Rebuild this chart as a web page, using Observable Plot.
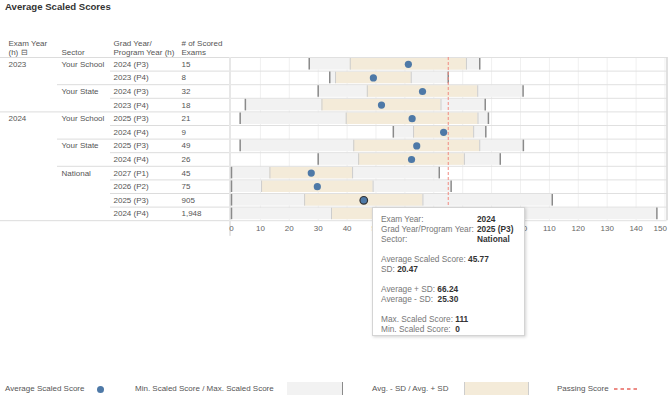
<!DOCTYPE html>
<html>
<head>
<meta charset="utf-8">
<script src="https://cdn.jsdelivr.net/npm/d3@7"></script>
<script src="https://cdn.jsdelivr.net/npm/@observablehq/plot@0.6"></script>
<style>
  body { margin: 0; background: #fff; font-family: Arial, "Liberation Sans", sans-serif; }
  #wrap { position: relative; width: 670px; height: 397px; overflow: hidden; }
  #title { height: 18px; font-weight: bold; font-size: 9.6px; color: #333; padding-left: 5px; line-height: 14px; }
  #charts { display: flex; }
  #charts svg { overflow: visible; }
  .legend { position: absolute; top: 382px; height: 14px; font-size: 8px; color: #555; line-height: 14px; white-space: nowrap; }
  #tooltip { position: absolute; left: 372px; top: 207px; width: 143px; height: 121px; background: #fff;
    border: 1px solid #d4d4d4; box-shadow: 1px 1px 3px rgba(0,0,0,0.18); padding: 6px 0 0 8px;
    font-size: 8.3px; line-height: 10px; color: #777; white-space: nowrap; }
  #tooltip b { color: #333; }
  #tooltip .v { position: absolute; left: 104px; }
  #tooltip .gap { height: 10px; }
</style>
</head>
<body>
<div id="wrap">
  <div id="title">Average Scaled Scores</div>
  <div id="charts"></div>
  <div id="tooltip"></div>
</div>
<script>
// ---------------- data ----------------
const examYears  = ["2023","2023","2023","2023","2024","2024","2024","2024","2024","2024","2024","2024"];
const sectors    = ["Your School","Your School","Your State","Your State","Your School","Your School","Your State","Your State","National","National","National","National"];
const gradYears  = ["2024 (P3)","2023 (P4)","2024 (P3)","2023 (P4)","2025 (P3)","2024 (P4)","2025 (P3)","2024 (P4)","2027 (P1)","2026 (P2)","2025 (P3)","2024 (P4)"];
const counts     = [15, 8, 32, 18, 21, 9, 49, 26, 45, 75, 905, 1948];
const avgScores  = [61.2, 49.1, 66.1, 51.9, 62.5, 73.4, 64.1, 62.3, 27.6, 29.7, 45.77, 55.0];
const sdScores   = [20.1, 13.1, 19.1, 20.6, 22.8, 10.4, 21.8, 18.3, 14.3, 19.3, 20.47, 20.4];
const minScores  = [26.9, 34.0, 30.0, 4.8, 3.0, 56.0, 3.0, 30.0, 0, 0, 0, 0];
const maxScores  = [85.9, 75.0, 100.9, 87.8, 88.9, 88.0, 101.0, 93.0, 71.9, 76.0, 111, 147.2];
const passingScore = 75;
const xTicks = [0,10,20,30,40,50,60,70,80,90,100,110,120,130,140,150];
const headerLine1 = ["Exam Year", "", "Grad Year/", "# of Scored"];
const headerLine2 = ["(h) \u229F", "Sector", "Program Year (h)", "Exams"];
const hovered = 10;

// ---------------- layout ----------------
const colX = [8, 61, 113, 181];
const sepStart = [0, 57, 110];
const H = 360, MT = 39, MB = 157.8;
const gray = "#f2f2f2", beige = "#f4ebd9", blue = "#4e79a7";

const rows = examYears.map((e, i) => ({
  i, exam: e, sector: sectors[i], grad: gradYears[i], count: counts[i],
  avg: avgScores[i], sd: sdScores[i], min: minScores[i], max: maxScores[i]
}));
const n = rows.length;
const examFirst = rows.filter((r, k) => k === 0 || rows[k-1].exam !== r.exam);
const sectorFirst = rows.filter((r, k) => k === 0 || rows[k-1].exam !== r.exam || rows[k-1].sector !== r.sector);
const seps = d3.range(0, n + 1).map(k => {
  let level = 2;
  if (k === 0 || k === n || rows[k].exam !== rows[k-1].exam) level = 0;
  else if (rows[k].sector !== rows[k-1].sector) level = 1;
  return {y: k, x1: sepStart[level]};
});
const headers = headerLine1.map((t, j) => ({x: colX[j], l1: t, l2: headerLine2[j]}));
const fmt = d3.format(",");
const yc = d => d.i + 0.5;
const style = {fontFamily: "Arial, 'Liberation Sans', sans-serif", fontSize: "8px", color: "#555", background: "transparent", overflow: "visible"};

const table = Plot.plot({
  width: 230, height: H, marginLeft: 0, marginRight: 0, marginTop: MT, marginBottom: MB,
  x: {domain: [0, 230], range: [0, 230], axis: null},
  y: {domain: [0, n], reverse: true, axis: null},
  style,
  marks: [
    Plot.ruleY(seps, {y: "y", x1: "x1", x2: 229, stroke: "#dcdcdc"}),
    Plot.ruleX([229.5], {y1: 0, y2: n + 1.15, stroke: "#cfcfcf"}),
    Plot.text(headers, {x: "x", text: "l1", frameAnchor: "top", dy: -14, lineAnchor: "middle", textAnchor: "start", fill: "#555"}),
    Plot.text(headers, {x: "x", text: "l2", frameAnchor: "top", dy: -5, lineAnchor: "middle", textAnchor: "start", fill: "#555"}),
    Plot.text(examFirst, {x: colX[0], y: yc, text: "exam", textAnchor: "start", fill: "#555"}),
    Plot.text(sectorFirst, {x: colX[1], y: yc, text: "sector", textAnchor: "start", fill: "#555"}),
    Plot.text(rows, {x: colX[2], y: yc, text: "grad", textAnchor: "start", fill: "#555"}),
    Plot.text(rows, {x: colX[3], y: yc, text: d => fmt(d.count), textAnchor: "start", fill: "#555"})
  ]
});

const xMax = 150.7;
const lastTick = xTicks[xTicks.length - 1];
const chart = Plot.plot({
  width: 440, height: H, marginLeft: 1, marginRight: 3.5, marginTop: MT, marginBottom: MB,
  x: {domain: [0, xMax], axis: null},
  y: {domain: [0, n], reverse: true, axis: null},
  style: {...style, color: "#666"},
  marks: [
    Plot.ruleX(xTicks.filter(t => t > 0), {y1: 0, y2: n, stroke: "#f0f0f0"}),
    Plot.rect(rows, {x1: "min", x2: "max", y1: d => d.i, y2: d => d.i + 1, insetTop: 1, insetBottom: 1, fill: gray}),
    Plot.rect(rows, {x1: d => d.avg - d.sd, x2: d => d.avg + d.sd, y1: d => d.i, y2: d => d.i + 1, insetTop: 1, insetBottom: 1, fill: beige}),
    Plot.ruleX(rows, {x: d => d.avg - d.sd, y1: d => d.i, y2: d => d.i + 1, insetTop: 1, insetBottom: 1, stroke: "#cdcdcd"}),
    Plot.ruleX(rows, {x: d => d.avg + d.sd, y1: d => d.i, y2: d => d.i + 1, insetTop: 1, insetBottom: 1, stroke: "#cdcdcd"}),
    Plot.ruleY(d3.range(0, n + 1), {stroke: "#e0e0e0"}),
    Plot.ruleX([xMax], {y1: 0, y2: n, stroke: "#d6d6d6", strokeWidth: 1.5}),
    Plot.ruleX(rows, {x: "min", y1: d => d.i, y2: d => d.i + 1, insetTop: 1, insetBottom: 1, stroke: "#8a8a8a", strokeWidth: 1.5}),
    Plot.ruleX(rows, {x: "max", y1: d => d.i, y2: d => d.i + 1, insetTop: 1, insetBottom: 1, stroke: "#8a8a8a", strokeWidth: 1.5}),
    Plot.ruleX([passingScore], {y1: 0, y2: n, stroke: "#f08a80", strokeDasharray: "3,2"}),
    Plot.dot(rows, {x: "avg", y: yc, r: 3.6, fill: blue}),
    Plot.dot(rows.filter(d => d.i === hovered), {x: "avg", y: yc, r: 3.8, fill: blue, stroke: "#333", strokeWidth: 1.2}),
    // axis tick labels
    Plot.text(xTicks.filter(t => t !== lastTick), {x: d => d, frameAnchor: "bottom", dy: 10, text: d => String(d), fill: "#666"}),
    Plot.text([lastTick], {x: d => d, frameAnchor: "bottom", dy: 10, dx: 2, textAnchor: "end", text: d => String(d), fill: "#666"})
  ]
});

document.getElementById("charts").append(table, chart);

// ---------------- tooltip ----------------
const h = rows[hovered];
const f2 = d3.format(".2f");
const fv = v => Number.isInteger(v) ? String(v) : f2(v);
document.getElementById("tooltip").innerHTML = `
  <div>Exam Year:<span class="v"><b>${h.exam}</b></span></div>
  <div>Grad Year/Program Year:<span class="v"><b>${h.grad}</b></span></div>
  <div>Sector:<span class="v"><b>${h.sector}</b></span></div>
  <div class="gap"></div>
  <div>Average Scaled Score: <b>${f2(h.avg)}</b></div>
  <div>SD: <b>${f2(h.sd)}</b></div>
  <div class="gap"></div>
  <div>Average + SD: <b>${f2(h.avg + h.sd)}</b></div>
  <div>Average - SD:&nbsp; <b>${f2(h.avg - h.sd)}</b></div>
  <div class="gap"></div>
  <div>Max. Scaled Score: <b>${fv(h.max)}</b></div>
  <div>Min. Scaled Score:&nbsp; <b>${fv(h.min)}</b></div>`;

// ---------------- legend ----------------
const wrap = document.getElementById("wrap");
function leg(left, html, extra) {
  const d = document.createElement("div");
  d.className = "legend";
  d.style.left = left + "px";
  d.innerHTML = html;
  if (extra) Object.assign(d.style, extra);
  wrap.append(d);
}
leg(5, "Average Scaled Score");
leg(97, "", {width: "7px", height: "7px", borderRadius: "50%", background: blue, top: "385.5px"});
leg(135, "Min. Scaled Score / Max. Scaled Score");
leg(287, "", {width: "55px", height: "13px", background: gray, borderRight: "1.5px solid #8a8a8a", top: "382px"});
leg(372, "Avg. - SD / Avg. + SD");
leg(464, "", {width: "63px", height: "13px", background: beige, borderLeft: "1px solid #cdcdcd", borderRight: "1px solid #cdcdcd", top: "382px"});
leg(557, "Passing Score");
leg(614, '<svg width="26" height="4" style="display:block"><line x1="0" x2="26" y1="2" y2="2" stroke="#e8655d" stroke-width="1.5" stroke-dasharray="3.5,3"/></svg>', {top: "387px", height: "4px"});
</script>
</body>
</html>
